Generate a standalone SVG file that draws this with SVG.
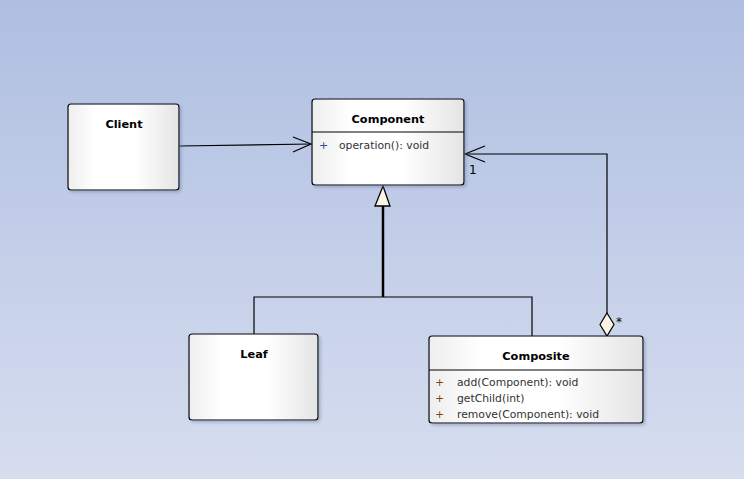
<svg xmlns="http://www.w3.org/2000/svg" width="744" height="479" viewBox="0 0 744 479">
<defs>
<linearGradient id="bg" x1="0" y1="0" x2="0" y2="1">
<stop offset="0" stop-color="#afbfe1"/>
<stop offset="1" stop-color="#d6ddef"/>
</linearGradient>
<linearGradient id="box" x1="0" y1="0" x2="1" y2="0">
<stop offset="0" stop-color="#eeeeee"/>
<stop offset="0.25" stop-color="#ffffff"/>
<stop offset="0.6" stop-color="#ffffff"/>
<stop offset="1" stop-color="#e4e4e4"/>
</linearGradient>
<filter id="sh" x="-10%" y="-10%" width="130%" height="130%">
<feDropShadow dx="2" dy="2" stdDeviation="1.5" flood-color="#7080a0" flood-opacity="0.45"/>
</filter>
</defs>
<style>
.box{fill:url(#box);stroke:#000;stroke-width:1.2;filter:url(#sh)}
.div{stroke:#000;stroke-width:1}
.title{font-family:"DejaVu Sans",sans-serif;font-size:11.3px;font-weight:bold;fill:#000;text-anchor:middle}
.op{font-family:"DejaVu Sans",sans-serif;font-size:10.8px;fill:#333}
.plus{font-family:"DejaVu Sans",sans-serif;font-size:11px;fill:#7a4a1a}
.line{fill:none;stroke:#000;stroke-width:1.2}
.lbl{font-family:"DejaVu Sans",sans-serif;font-size:12px;fill:#000}
</style>
<rect x="0" y="0" width="744" height="479" fill="url(#bg)"/>
<g id="connectors">
<path class="line" d="M179,146 L311,144"/>
<path class="line" d="M293,137 L311,144 L293,152"/>
<path class="line" d="M254,334 L254,297 L532,297 L532,336"/>
<path d="M383,297 L383,206" fill="none" stroke="#000" stroke-width="2.5"/>
<path d="M383,186 L390,206 L375,206 Z" fill="#fbf3e4" stroke="#000" stroke-width="1.3"/>
<path class="line" d="M607,313 L607,154 L465,154"/>
<path class="line" d="M485,146 L465,154 L485,162"/>
<path d="M607,313 L614,324.5 L607,336 L600,324.5 Z" fill="#fbf3e4" stroke="#000" stroke-width="1.2"/>
<text class="lbl" x="469" y="174">1</text>
<text class="lbl" x="616" y="326" font-size="10">*</text>
</g>
<g id="client">
<rect class="box" x="68" y="104" width="111" height="86" rx="3"/>
<text class="title" x="124" y="128">Client</text>
</g>
<g id="component">
<rect class="box" x="312" y="99" width="152" height="86" rx="3"/>
<line class="div" x1="312" y1="132" x2="464" y2="132"/>
<text class="title" x="388" y="123">Component</text>
<text class="plus" x="319" y="149" style="fill:#2a4a9a">+</text>
<text class="op" x="339" y="149">operation(): void</text>
</g>
<g id="leaf">
<rect class="box" x="189" y="334" width="129" height="86" rx="3"/>
<text class="title" x="254" y="358">Leaf</text>
</g>
<g id="composite">
<rect class="box" x="429" y="336" width="214" height="87" rx="3"/>
<line class="div" x1="429" y1="370" x2="643" y2="370"/>
<text class="title" x="536" y="360">Composite</text>
<text class="plus" x="435" y="386">+</text>
<text class="op" x="457" y="386">add(Component): void</text>
<text class="plus" x="435" y="402">+</text>
<text class="op" x="457" y="402">getChild(int)</text>
<text class="plus" x="435" y="418">+</text>
<text class="op" x="457" y="418">remove(Component): void</text>
</g>
</svg>
